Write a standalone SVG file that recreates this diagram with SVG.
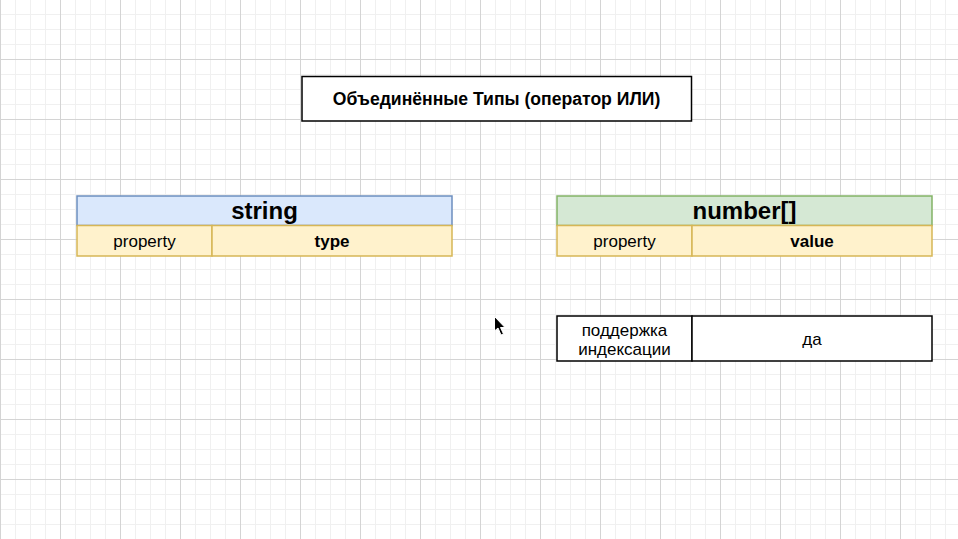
<svg xmlns="http://www.w3.org/2000/svg" width="958" height="539" viewBox="0 0 958 539">
<defs>
<pattern id="minor" width="15" height="15" patternUnits="userSpaceOnUse" x="0" y="14">
<path d="M0 0.5H15M0.5 0V15" fill="none" stroke="#f0f0f0" stroke-width="1"/>
</pattern>
<pattern id="major" width="60" height="60" patternUnits="userSpaceOnUse" x="0" y="59">
<path d="M0 0.5H60M0.5 0V60" fill="none" stroke="#d4d4d4" stroke-width="1"/>
</pattern>
</defs>
<style>
text{font-family:"Liberation Sans",Arial,Helvetica,sans-serif;fill:#000;text-anchor:middle}
.b{font-weight:bold}
.t15{font-size:17px}
.tt{font-size:17.6px;font-weight:bold}
.t21{font-size:24px;font-weight:bold}
.hb{fill:#dae8fc;stroke:#6c8ebf;stroke-width:1.5}
.hg{fill:#d5e8d4;stroke:#82b366;stroke-width:1.5}
.y{fill:#fff2cc;stroke:#d6b656;stroke-width:1.5}
.w{fill:#fff;stroke:#000;stroke-width:1.5}
</style>
<rect width="958" height="539" fill="#fff"/>
<rect width="958" height="539" fill="url(#minor)"/>
<rect width="958" height="539" fill="url(#major)"/>
<g id="connectors"></g>
<g id="title">
<rect class="w" x="302" y="76.5" width="389.5" height="44.5"/>
<text class="tt" x="496.5" y="104.5">Объединённые Типы (оператор ИЛИ)</text>
</g>
<g id="string">
<rect class="hb" x="77" y="196" width="375" height="29.5"/>
<text class="t21" x="264.5" y="219">string</text>
<rect class="y" x="77" y="225.5" width="135" height="30.5"/>
<rect class="y" x="212" y="225.5" width="240" height="30.5"/>
<text class="t15" x="144.5" y="247">property</text>
<text class="b t15" x="332" y="247">type</text>
</g>
<g id="number">
<rect class="hg" x="557" y="196" width="375" height="29.5"/>
<text class="t21" x="744.5" y="219">number[]</text>
<rect class="y" x="557" y="225.5" width="135" height="30.5"/>
<rect class="y" x="692" y="225.5" width="240" height="30.5"/>
<text class="t15" x="624.5" y="247">property</text>
<text class="b t15" x="812" y="247">value</text>
</g>
<g id="indexing">
<rect class="w" x="557" y="316" width="135" height="45"/>
<rect class="w" x="692" y="316" width="240" height="45"/>
<text class="t15" x="624.5" y="335.5">поддержка</text>
<text class="t15" x="624.5" y="354.5">индексации</text>
<text class="t15" x="812" y="345">да</text>
</g>
<g id="cursor">
<path d="M494.5 316.5 L494.5 331 L498 328 L501 335 L503.5 334 L500.5 327.5 L505 327.5 Z" fill="#000" stroke="#fff" stroke-width="1"/>
</g>
</svg>
